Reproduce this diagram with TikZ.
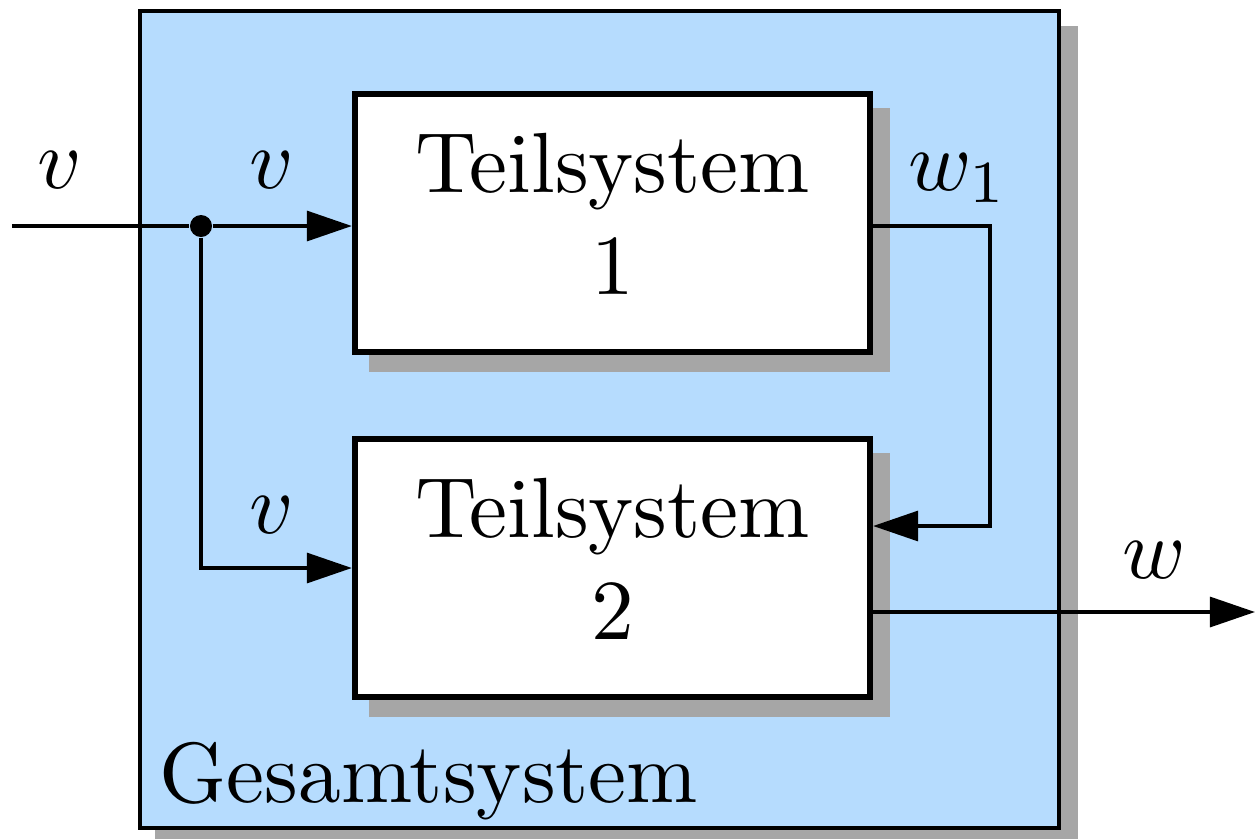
\documentclass[tikz,border=0pt]{standalone}
\usepackage{graphicx}
\usetikzlibrary{arrows.meta,shadows,calc}
\definecolor{sysblue}{RGB}{182,220,254}
\definecolor{shadowgray}{RGB}{166,166,166}
% all text is set at 10pt and enlarged as a whole
\newcommand{\sclt}[1]{\scalebox{2.43}{#1}}
\newcommand{\twoline}[2]{\sclt{\begin{tabular}{@{}c@{}}#1\\#2\end{tabular}}}
\begin{document}
\begin{tikzpicture}[x=0.01cm,y=-0.01cm,
  hardshadow/.style={drop shadow={shadow xshift=0.17cm,shadow yshift=-0.17cm,fill=shadowgray,draw=shadowgray,opacity=1}},
  outerbox/.style={draw,line width=1.1pt,fill=sysblue,minimum width=9.185cm,minimum height=8.17cm,inner sep=0pt,hardshadow},
  block/.style={draw,line width=1.7pt,fill=white,minimum width=5.15cm,minimum height=2.575cm,inner sep=0pt,align=center,hardshadow},
  wire/.style={line width=1pt},
  sig/.style={wire,-{Triangle[length=12.8pt,width=8.5pt]}},
  junction/.style={circle,fill,inner sep=0pt,minimum size=0.22cm},
  lbl/.style={inner sep=0pt}]
\useasboundingbox (0,0) rectangle (1259,838);

% overall system frame and its title
\node[outerbox] (sys) at (599.75,419.5) {};
\node[lbl,anchor=base west] (sysname) at (159,802) {\sclt{Gesamtsystem}};

% subsystems
\node[block] (b1) at (612.5,223) {\twoline{Teilsystem}{1}};
\node[block] (b2) at (612.5,568) {\twoline{Teilsystem}{2}};

% input and its branch point
\coordinate (vin) at (12,226);
\node[junction] (j) at (201,226) {};
\draw[wire] (vin) -- (j);
\draw[sig] (j) -- (j -| b1.west);
\draw[sig] (j) |- (b2.west);

% output of subsystem 1 fed into subsystem 2
\coordinate (fbtop) at (990,226);
\coordinate (fbbot) at (990,526);
\draw[sig] (b1.east |- fbtop) -- (fbtop) -- (fbbot) -- (fbbot -| b2.east);

% overall output
\coordinate (wout) at (1255,612);
\draw[sig] (b2.east |- wout) -- (wout);

% signal labels
\node[lbl] (lv0) at (60,170) {\sclt{$v$}};
\node[lbl] (lv1) at (272,170) {\sclt{$v$}};
\node[lbl] (lv2) at (272,515) {\sclt{$v$}};
\node[lbl] (lw1) at (958,178) {\sclt{$w_1$}};
\node[lbl] (lw) at (1154,560) {\sclt{$w$}};
\end{tikzpicture}
\end{document}
